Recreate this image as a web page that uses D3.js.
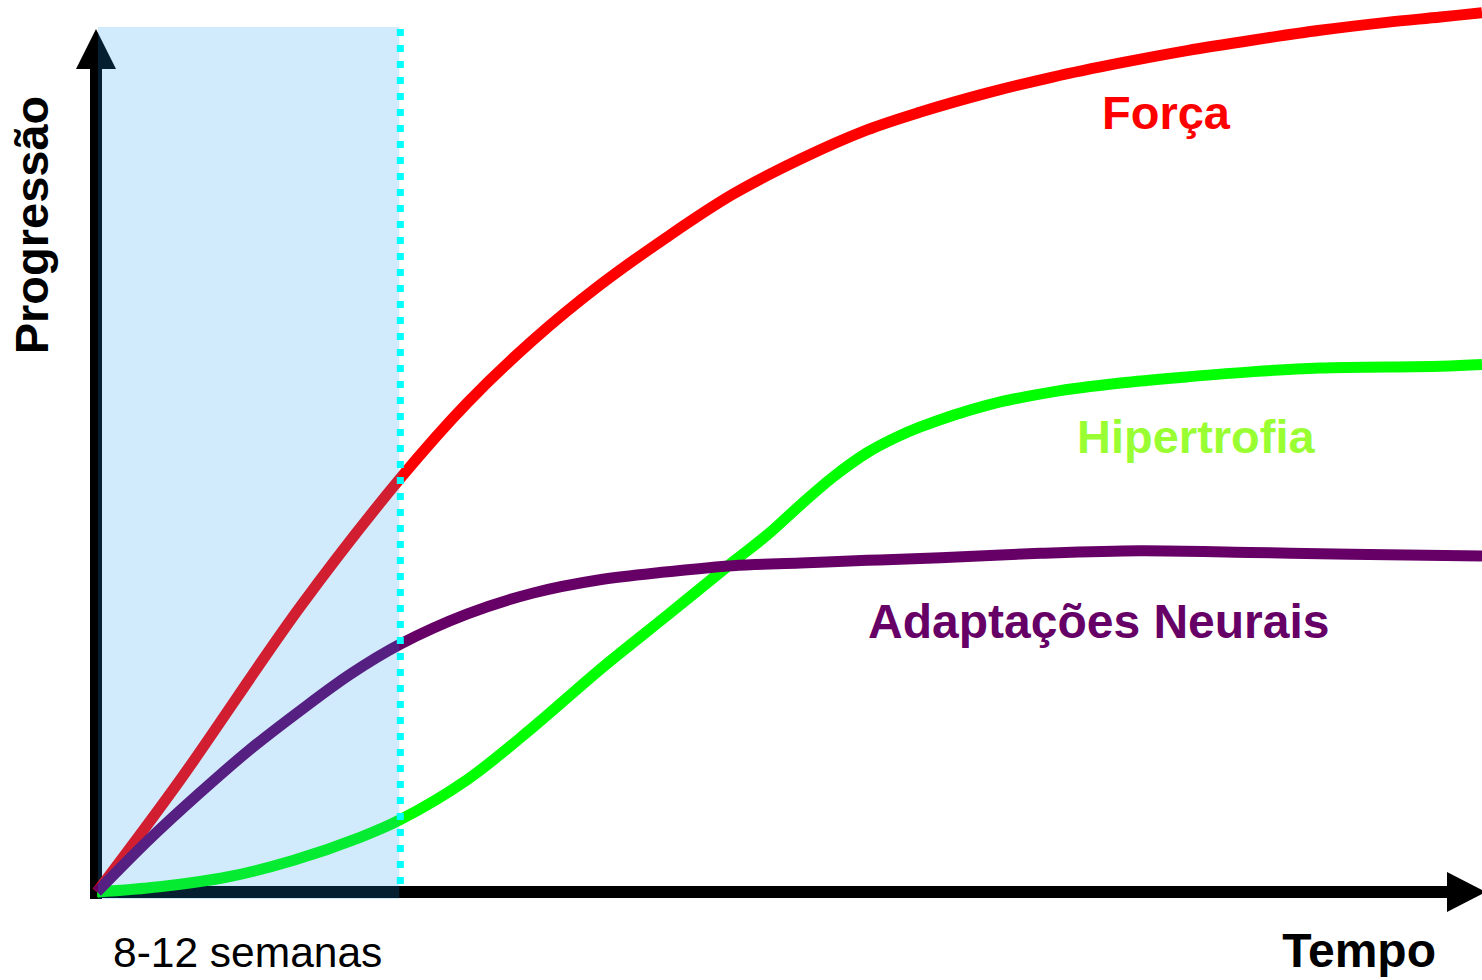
<!DOCTYPE html>
<html>
<head>
<meta charset="utf-8">
<script src="https://cdn.jsdelivr.net/npm/d3@7"></script>
<style>
  html, body { margin: 0; padding: 0; background: #fff; }
  svg { display: block; }
  text { font-family: "Liberation Sans", Arial, sans-serif; }
</style>
</head>
<body>
<svg id="chart" width="1482" height="980"></svg>
<script>
// curves, x = time (0-100), y = progression (0-100)
var forcaX = [0, 6.0, 14.7, 21.9, 26.7, 31.5, 36.3, 41.2, 45.9, 50.8, 55.6, 59.4, 64.3, 69.0, 73.9, 78.7, 83.5, 88.3, 93.1, 97.0, 100];
var forcaY = [0, 12.7, 32.4, 46.9, 55.4, 62.6, 68.8, 74.3, 79.1, 83.1, 86.4, 88.4, 90.6, 92.4, 94.0, 95.4, 96.6, 97.7, 98.6, 99.2, 99.7];

var hiperX = [0, 4.5, 9.4, 14.2, 19.0, 21.9, 26.7, 31.5, 36.3, 41.2, 45.9, 48.4, 50.8, 53.1, 55.6, 57.5, 59.4, 64.3, 69.0, 73.9, 78.7, 83.5, 88.3, 97.0, 100];
var hiperY = [0, 0.6, 1.7, 3.6, 6.2, 8.2, 12.7, 18.7, 25.2, 31.4, 37.4, 40.5, 43.9, 47.0, 49.8, 51.4, 52.7, 55.2, 56.7, 57.7, 58.4, 59.0, 59.4, 59.6, 59.8];

var neuralX = [0, 3.8, 7.4, 11.0, 14.7, 18.3, 21.9, 26.7, 31.5, 36.3, 41.2, 45.9, 50.8, 55.6, 60.9, 68.1, 75.3, 83.2, 90.5, 100];
var neuralY = [0, 6.0, 11.2, 16.1, 20.6, 24.7, 28.1, 31.5, 33.9, 35.4, 36.3, 37.0, 37.3, 37.6, 37.9, 38.4, 38.7, 38.5, 38.3, 38.1];

var seriesNames = ["Força", "Hipertrofia", "Adaptações Neurais"];
var seriesColors = ["#ff0000", "#00ff00", "#660066"];
var labelColors = ["#ff0000", "#99ff33", "#660066"];

var shadeEnd = 21.9;          // fim das 8-12 semanas
var shadeLabel = "8-12 semanas";
var xTitle = "Tempo";
var yTitle = "Progressão";

var svg = d3.select("#chart");

var x = d3.scaleLinear().domain([0, 100]).range([97, 1482]);
var y = d3.scaleLinear().domain([0, 100]).range([892, 10]);

var axisW = 12;
var axisTop = 29;

// axes with arrow heads
var axes = svg.append("g");
axes.append("line")
  .attr("x1", 96).attr("x2", 96)
  .attr("y1", 899).attr("y2", axisTop + 30)
  .attr("stroke", "#000").attr("stroke-width", axisW);
axes.append("path")
  .attr("d", "M76,69 L96," + axisTop + " L116,69 Z")
  .attr("fill", "#000");
axes.append("line")
  .attr("x1", 90).attr("x2", 1450)
  .attr("y1", y(0)).attr("y2", y(0))
  .attr("stroke", "#000").attr("stroke-width", axisW);
axes.append("path")
  .attr("d", "M1447," + (y(0) - 20) + " L1486," + y(0) + " L1447," + (y(0) + 20) + " Z")
  .attr("fill", "#000");

// curves
var line = d3.line()
  .x(function(d){ return x(d[0]); })
  .y(function(d){ return y(d[1]); })
  .curve(d3.curveCatmullRom.alpha(0.5));

var series = [
  d3.zip(forcaX, forcaY),
  d3.zip(hiperX, hiperY),
  d3.zip(neuralX, neuralY)
];

svg.append("g")
  .selectAll("path")
  .data(series)
  .enter()
  .append("path")
  .attr("d", line)
  .attr("fill", "none")
  .attr("stroke", function(d, i){ return seriesColors[i]; })
  .attr("stroke-width", 11);

// shaded 8-12 weeks overlay
svg.append("rect")
  .attr("x", x(0) + 1)
  .attr("y", 27)
  .attr("width", x(shadeEnd) - x(0) - 2)
  .attr("height", 899 - 27)
  .attr("fill", "rgb(25,153,245)")
  .attr("fill-opacity", 0.2);

svg.append("line")
  .attr("x1", x(shadeEnd)).attr("x2", x(shadeEnd))
  .attr("y1", axisTop).attr("y2", 886)
  .attr("stroke", "#00ffff")
  .attr("stroke-width", 7)
  .attr("stroke-dasharray", "7,9");

// series labels
var labelPos = [[1102, 129], [1077, 453], [868, 638]];
var labelSize = [47, 47, 48];
svg.append("g")
  .selectAll("text")
  .data(seriesNames)
  .enter()
  .append("text")
  .attr("x", function(d, i){ return labelPos[i][0]; })
  .attr("y", function(d, i){ return labelPos[i][1]; })
  .attr("fill", function(d, i){ return labelColors[i]; })
  .attr("font-size", function(d, i){ return labelSize[i]; })
  .attr("font-weight", "bold")
  .text(function(d){ return d; });

// axis titles
svg.append("text")
  .attr("x", 1436).attr("y", 967)
  .attr("text-anchor", "end")
  .attr("font-size", 48)
  .attr("font-weight", "bold")
  .text(xTitle);

svg.append("text")
  .attr("transform", "translate(48,225) rotate(-90)")
  .attr("text-anchor", "middle")
  .attr("font-size", 47)
  .attr("font-weight", "bold")
  .text(yTitle);

svg.append("text")
  .attr("x", 113).attr("y", 967)
  .attr("font-size", 42.5)
  .text(shadeLabel);
</script>
</body>
</html>
